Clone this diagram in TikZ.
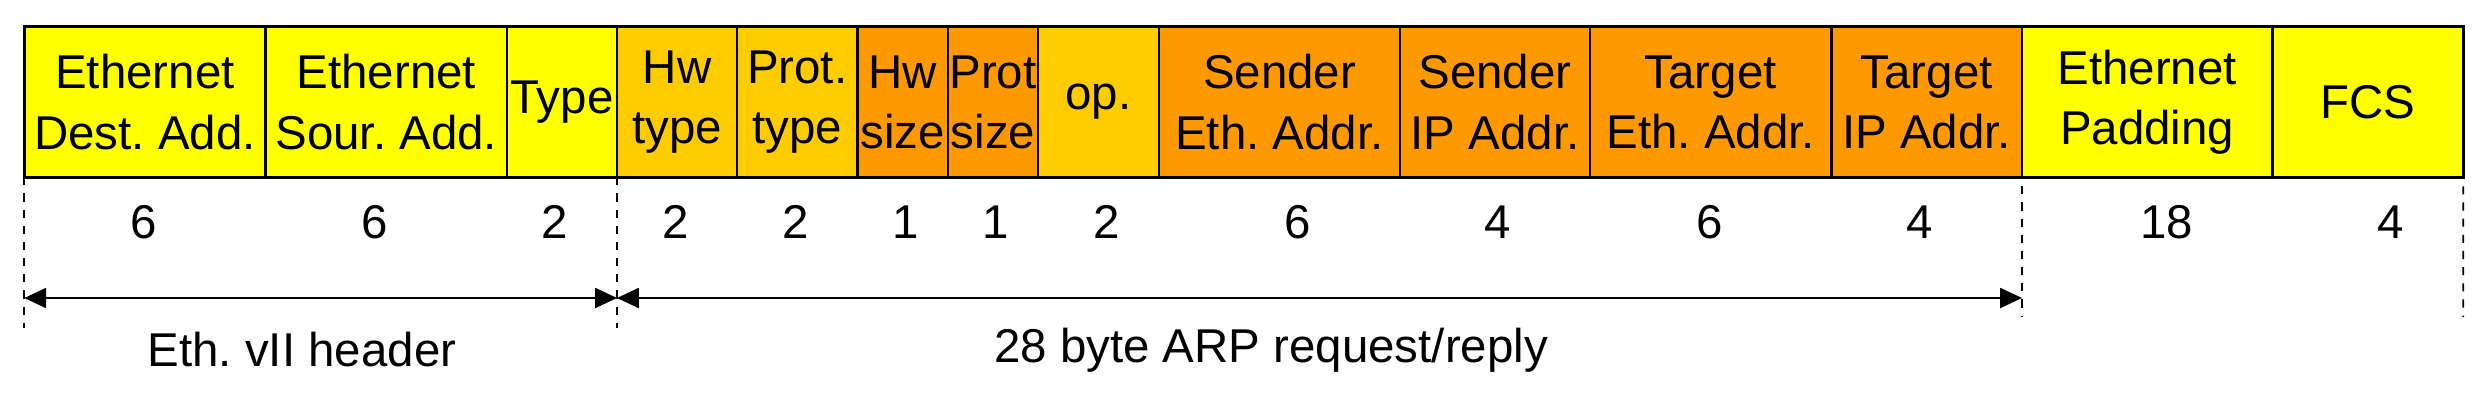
\documentclass[tikz,border=0pt]{standalone}
\usepackage{fontspec}
\setmainfont{Liberation Sans}
\usetikzlibrary{arrows.meta}

\definecolor{fieldyellow}{HTML}{FFFF00}
\definecolor{fieldgold}{HTML}{FFCC00}
\definecolor{fieldorange}{HTML}{FF9900}

\frenchspacing

\begin{document}
\begin{tikzpicture}[
    font=\fontsize{13.5}{17.1}\selectfont,
    >={Triangle[length=6.2pt,width=5.7pt]},
    % Frame field box (placed by its left edge)
    field/.style={
        rectangle, draw=black, line width=0.7pt, anchor=west,
        minimum height=1.506cm, inner sep=0pt, outer sep=0pt,
        align=center
    },
    % Byte count under a field
    bytes/.style={inner sep=0pt},
    % Dashed guide line
    guide/.style={dash pattern=on 2.3pt off 2.3pt, line width=0.5pt},
    % Span arrow
    span/.style={<->, line width=0.5pt}
]
    \useasboundingbox (0,0) rectangle (24.86,-4.12);

    % =========================================================================
    % Ethernet header
    % =========================================================================
    \node[field, fill=fieldyellow, minimum width=2.414cm] (dest) at (0.243,-1.02)
        {Ethernet\\Dest. Add.};
    \node[field, fill=fieldyellow, minimum width=2.413cm] (src) at (2.657,-1.02)
        {Ethernet\\Sour. Add.};
    \node[field, fill=fieldyellow, minimum width=1.10cm] (type) at (5.07,-1.02)
        {Type};

    % =========================================================================
    % ARP request/reply
    % =========================================================================
    \node[field, fill=fieldgold, minimum width=1.20cm] (hwtype) at (6.17,-1.02)
        {Hw\\type};
    \node[field, fill=fieldgold, minimum width=1.203cm] (prottype) at (7.37,-1.02)
        {Prot.\\type};
    \node[field, fill=fieldorange, minimum width=0.907cm] (hwsize) at (8.573,-1.02)
        {Hw\\size};
    \node[field, fill=fieldorange, minimum width=0.90cm] (protsize) at (9.48,-1.02)
        {Prot\\size};
    \node[field, fill=fieldgold, minimum width=1.21cm] (op) at (10.38,-1.02)
        {op.};
    \node[field, fill=fieldorange, minimum width=2.41cm] (sndeth) at (11.59,-1.02)
        {Sender\\Eth. Addr.};
    \node[field, fill=fieldorange, minimum width=1.90cm] (sndip) at (14.00,-1.02)
        {Sender\\IP Addr.};
    \node[field, fill=fieldorange, minimum width=2.413cm] (tgteth) at (15.90,-1.02)
        {Target\\Eth. Addr.};
    \node[field, fill=fieldorange, minimum width=1.907cm] (tgtip) at (18.313,-1.02)
        {Target\\IP Addr.};

    % =========================================================================
    % Ethernet trailer
    % =========================================================================
    \node[field, fill=fieldyellow, minimum width=2.503cm] (pad) at (20.22,-1.02)
        {Ethernet\\Padding};
    \node[field, fill=fieldyellow, minimum width=1.91cm] (fcs) at (22.723,-1.02)
        {FCS};

    % =========================================================================
    % Byte counts
    % =========================================================================
    \node[bytes] (bdest) at (1.44,-2.22) {6};
    \node[bytes] (bsrc) at (3.75,-2.22) {6};
    \node[bytes] (btype) at (5.55,-2.22) {2};
    \node[bytes] (bhwtype) at (6.76,-2.22) {2};
    \node[bytes] (bprottype) at (7.96,-2.22) {2};
    \node[bytes] (bhwsize) at (9.057,-2.22) {1};
    \node[bytes] (bprotsize) at (9.957,-2.22) {1};
    \node[bytes] (bop) at (11.07,-2.22) {2};
    \node[bytes] (bsndeth) at (12.98,-2.22) {6};
    \node[bytes] (bsndip) at (14.98,-2.22) {4};
    \node[bytes] (btgteth) at (17.10,-2.22) {6};
    \node[bytes] (btgtip) at (19.197,-2.22) {4};
    \node[bytes] (bpad) at (21.667,-2.22) {18};
    \node[bytes] (bfcs) at (23.91,-2.22) {4};

    % =========================================================================
    % Guides and spans
    % =========================================================================
    \coordinate (g0) at (0.243,-3.28);
    \coordinate (g1) at (6.17,-3.28);
    \coordinate (g2) at (20.22,-3.17);
    \coordinate (g3) at (24.633,-3.17);

    \draw[guide] (dest.south west) -- (g0);
    \draw[guide] (hwtype.south west) -- (g1);
    \draw[guide] ([yshift=-0.09cm]pad.south west) -- (g2);
    \draw[guide] ([yshift=-0.09cm]fcs.south east) -- (g3);

    \coordinate (s0) at (0.243,-2.98);
    \coordinate (s1) at (6.17,-2.98);
    \coordinate (s2) at (20.22,-2.98);

    \draw[span] (s0) -- (s1);
    \draw[span] (s1) -- (s2);

    \node (hdr) at (3.02,-3.50) {Eth. vII header};
    \node (arp) at (12.71,-3.50) {28 byte ARP request/reply};

\end{tikzpicture}
\end{document}
